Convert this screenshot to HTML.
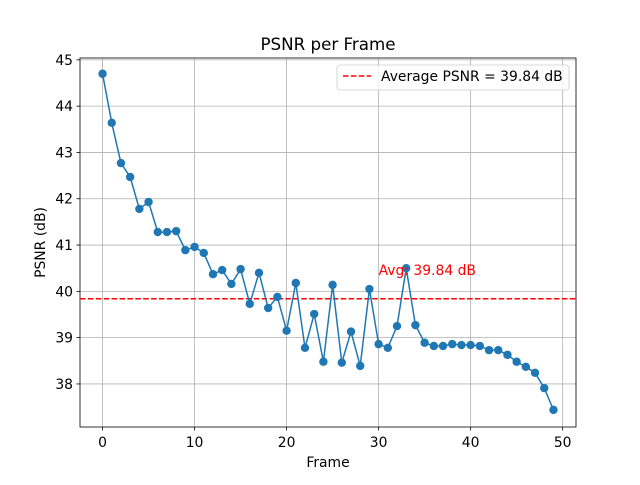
<!DOCTYPE html>
<html><head><meta charset="utf-8"><style>
body{margin:0;background:#fff;font-family:"Liberation Sans","DejaVu Sans",sans-serif}
svg text{font-family:"DejaVu Sans","Liberation Sans",sans-serif}
</style></head><body>
<svg id="chart" width="640" height="480" xmlns="http://www.w3.org/2000/svg">
<rect width="640" height="480" fill="#fff"/>
<g id="grid"></g><g id="axes"></g><g id="marks"></g><g id="labels"></g>
</svg>
<script>
const frames=[...Array(50).keys()];
const psnr=[44.70,43.64,42.77,42.47,41.78,41.93,41.28,41.28,41.30,40.89,40.96,40.83,40.37,40.46,40.16,40.48,39.73,40.40,39.64,39.88,39.15,40.18,38.78,39.51,38.48,40.14,38.46,39.13,38.39,40.05,38.86,38.78,39.25,40.50,39.27,38.89,38.82,38.82,38.86,38.84,38.84,38.82,38.73,38.73,38.63,38.48,38.37,38.24,37.91,37.44];
const avgPsnr=39.84;
const xTicks=[0,10,20,30,40,50];
const yTicks=[38,39,40,41,42,43,44,45];
const L=80,R=576,T=58,B=427;
const xMin=-2.45,xMax=51.45,yMin=37.07,yMax=45.04;
const X=v=>L+(v-xMin)/(xMax-xMin)*(R-L);
const Y=v=>B-(v-yMin)/(yMax-yMin)*(B-T);
const NS="http://www.w3.org/2000/svg";
const FS=13.9;
function mk(p,tag,a){const e=document.createElementNS(NS,tag);for(const k in a)e.setAttribute(k,a[k]);document.getElementById(p).appendChild(e);return e;}
xTicks.forEach(t=>{
 let g=mk('grid','line',{x1:X(t),x2:X(t),y1:T,y2:B,stroke:'#b0b0b0','stroke-width':0.8});
 
 
 mk('axes','line',{x1:X(t),x2:X(t),y1:B,y2:B+3.5,stroke:'#000','stroke-width':0.8});
 let tx=mk('labels','text',{x:X(t),y:B+20,'font-size':FS,'text-anchor':'middle'});tx.textContent=t;
 
 
});
yTicks.forEach(t=>{
 let g=mk('grid','line',{x1:L,x2:R,y1:Y(t),y2:Y(t),stroke:'#b0b0b0','stroke-width':0.8});
 
 
 mk('axes','line',{x1:L-3.5,x2:L,y1:Y(t),y2:Y(t),stroke:'#000','stroke-width':0.8});
 let tx=mk('labels','text',{x:L-7,y:Y(t)+5,'font-size':FS,'text-anchor':'end'});tx.textContent=t;
 
 
});
let fr=mk('axes','rect',{x:L,y:T,width:R-L,height:B-T,fill:'none',stroke:'#000','stroke-width':0.8});


let al=mk('marks','line',{x1:L,x2:R,y1:Y(avgPsnr),y2:Y(avgPsnr),stroke:'red','stroke-width':1.5,'stroke-dasharray':'5.5,2.4'});


let pl=mk('marks','polyline',{points:frames.map((f,i)=>X(f)+','+Y(psnr[i])).join(' '),fill:'none',stroke:'#1f77b4','stroke-width':1.5});


frames.forEach((f,i)=>{
 let c=mk('marks','circle',{cx:X(f),cy:Y(psnr[i]),r:4.2,fill:'#1f77b4'});
 
 
});
let at=mk('labels','text',{x:X(30),y:275,'font-size':FS,fill:'red'});at.textContent='Avg: '+avgPsnr.toFixed(2)+' dB';


let ti=mk('labels','text',{x:(L+R)/2,y:50,'font-size':16.7,'text-anchor':'middle'});ti.textContent='PSNR per Frame';


let xl=mk('labels','text',{x:(L+R)/2,y:467,'font-size':FS,'text-anchor':'middle'});xl.textContent='Frame';


let yl=mk('labels','text',{x:45,y:(T+B)/2,'font-size':FS,'text-anchor':'middle',transform:'rotate(-90 45 '+(T+B)/2+')'});yl.textContent='PSNR (dB)';


let lg=mk('labels','rect',{x:337,y:65,width:232,height:25,rx:3,fill:'#fff',stroke:'#ccc','stroke-width':0.8,'fill-opacity':0.8});


mk('labels','line',{x1:343,x2:371,y1:76,y2:76,stroke:'red','stroke-width':1.5,'stroke-dasharray':'5.5,2.4'});
let lt=mk('labels','text',{x:381,y:81,'font-size':FS});lt.textContent='Average PSNR = '+avgPsnr.toFixed(2)+' dB';


</script>
</body></html>
